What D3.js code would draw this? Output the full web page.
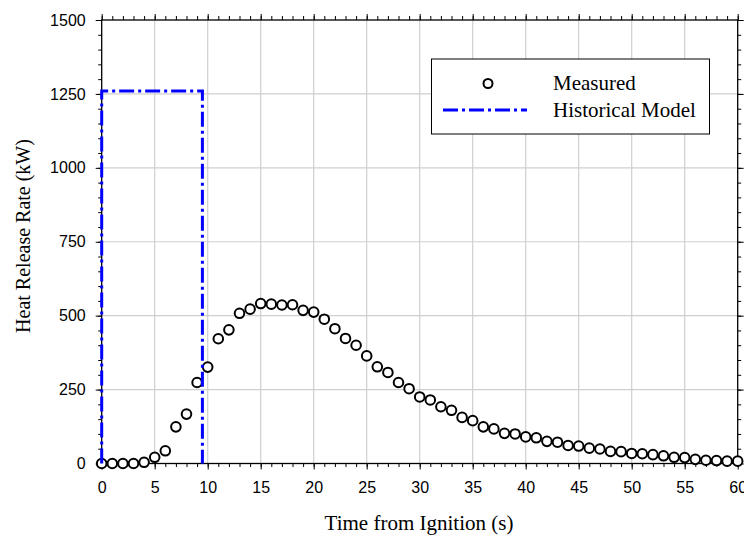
<!DOCTYPE html>
<html>
<head>
<meta charset="utf-8">
<script src="https://cdn.jsdelivr.net/npm/d3@7"></script>
<style>
  html, body { margin: 0; padding: 0; background: #fff; }
  svg { display: block; }
</style>
</head>
<body>
<svg id="chart" width="744" height="535"></svg>
<script>
// ---- data ----
const measuredTime = d3.range(0, 61); // seconds 0..60
const measuredHRR = [
  0, 0, 0, 0, 4, 21, 43, 124, 167, 274,
  326, 422, 452, 508, 522, 541, 539, 536, 537, 518,
  512, 488, 456, 423, 400, 364, 327, 308, 274, 253,
  225, 215, 192, 180, 156, 145, 124, 117, 102, 100,
  90, 87, 75, 72, 61, 59, 52, 49, 41, 40,
  34, 33, 30, 26, 21, 20, 14, 11, 10, 8, 8
];
const modelTime = [0, 0, 9.5, 9.5];
const modelHRR = [0, 1260, 1260, 0];
const xTicks = [0, 5, 10, 15, 20, 25, 30, 35, 40, 45, 50, 55, 60];
const yTicks = [0, 250, 500, 750, 1000, 1250, 1500];
const seriesNames = ["Measured", "Historical Model"];
const xTitle = "Time from Ignition (s)";
const yTitle = "Heat Release Rate (kW)";

// ---- layout ----
const pLeft = 101.7, pRight = 737.7, pTop = 20, pBottom = 463.5;
const svg = d3.select("#chart");
const x = d3.scaleLinear().domain([0, 60]).range([pLeft, pRight]);
const y = d3.scaleLinear().domain([0, 1500]).range([pBottom, pTop]);

const gridColor = "#cfcfcf";
// grid
const grid = svg.append("g");
grid.selectAll("line.vx").data(xTicks.filter(t => t > 0 && t < 60)).join("line")
  .attr("x1", d => x(d)).attr("x2", d => x(d)).attr("y1", pTop).attr("y2", pBottom)
  .attr("stroke", gridColor).attr("stroke-width", 1.2);
grid.selectAll("line.hy").data(yTicks.filter(t => t > 0 && t < 1500)).join("line")
  .attr("x1", pLeft).attr("x2", pRight).attr("y1", d => y(d)).attr("y2", d => y(d))
  .attr("stroke", gridColor).attr("stroke-width", 1.2);

// axes (ticks outward on all four sides)
const xMinor = d3.range(0, 61, 1);
const yMinor = d3.range(0, 1501, 50);
function styleAxis(g) {
  g.select(".domain").remove();
  g.selectAll("line").attr("stroke", "#000").attr("stroke-width", 1);
}
const fontTick = "'Liberation Sans', Arial, sans-serif";
const fontTitle = "'Liberation Serif', 'Times New Roman', serif";

// bottom minor
svg.append("g").attr("transform", `translate(0,${pBottom})`)
  .call(d3.axisBottom(x).tickValues(xMinor).tickSize(3.5).tickFormat(""))
  .call(styleAxis);
// bottom major
svg.append("g").attr("transform", `translate(0,${pBottom})`)
  .call(d3.axisBottom(x).tickValues(xTicks).tickSize(6).tickPadding(12).tickFormat(d3.format("d")))
  .call(styleAxis)
  .call(g => g.selectAll("text").attr("font-family", fontTick).attr("font-size", 16).attr("fill", "#000"));
// top
svg.append("g").attr("transform", `translate(0,${pTop})`)
  .call(d3.axisTop(x).tickValues(xMinor).tickSize(4).tickFormat(""))
  .call(styleAxis);
svg.append("g").attr("transform", `translate(0,${pTop})`)
  .call(d3.axisTop(x).tickValues(xTicks).tickSize(6).tickFormat(""))
  .call(styleAxis);
// left
svg.append("g").attr("transform", `translate(${pLeft},0)`)
  .call(d3.axisLeft(y).tickValues(yMinor).tickSize(3.5).tickFormat(""))
  .call(styleAxis);
svg.append("g").attr("transform", `translate(${pLeft},0)`)
  .call(d3.axisLeft(y).tickValues(yTicks).tickSize(6).tickPadding(10).tickFormat(d3.format("d")))
  .call(styleAxis)
  .call(g => g.selectAll("text").attr("font-family", fontTick).attr("font-size", 16).attr("fill", "#000"));
// right
svg.append("g").attr("transform", `translate(${pRight},0)`)
  .call(d3.axisRight(y).tickValues(yMinor).tickSize(3.5).tickFormat(""))
  .call(styleAxis);
svg.append("g").attr("transform", `translate(${pRight},0)`)
  .call(d3.axisRight(y).tickValues(yTicks).tickSize(6).tickFormat(""))
  .call(styleAxis);

// frame
svg.append("rect").attr("x", pLeft).attr("y", pTop)
  .attr("width", pRight - pLeft).attr("height", pBottom - pTop)
  .attr("fill", "none").attr("stroke", "#000").attr("stroke-width", 1.3);

// legend box (covers grid)
const lg = svg.append("g");
lg.append("rect").attr("x", 431.5).attr("y", 59).attr("width", 278).attr("height", 75)
  .attr("fill", "#fff").attr("stroke", "#000").attr("stroke-width", 1);

// measured points
const pts = measuredTime.map((t, i) => ({ t, v: measuredHRR[i] }));
svg.append("g").selectAll("circle").data(pts).join("circle")
  .attr("cx", d => x(d.t)).attr("cy", d => y(d.v)).attr("r", 4.8)
  .attr("fill", "#fff").attr("stroke", "#000").attr("stroke-width", 2);

// model line
const dash = "15,4,3,4";
const model = modelTime.map((t, i) => ({ t, v: modelHRR[i] }));
svg.append("path").datum(model)
  .attr("d", d3.line().x(d => x(d.t)).y(d => y(d.v)))
  .attr("fill", "none").attr("stroke", "#0000ff").attr("stroke-width", 3)
  .attr("stroke-dasharray", dash);

// legend content
lg.append("circle").attr("cx", 488).attr("cy", 83.5).attr("r", 4.5)
  .attr("fill", "#fff").attr("stroke", "#000").attr("stroke-width", 2);
lg.append("line").attr("x1", 443).attr("x2", 527).attr("y1", 110).attr("y2", 110)
  .attr("stroke", "#0000ff").attr("stroke-width", 3).attr("stroke-dasharray", dash);
lg.selectAll("text").data(seriesNames).join("text")
  .attr("x", 553).attr("y", (d, i) => i === 0 ? 90 : 116.7)
  .attr("font-family", fontTitle).attr("font-size", 21).attr("fill", "#000")
  .text(d => d);

// titles
svg.append("text").attr("x", 419).attr("y", 529.5)
  .attr("text-anchor", "middle").attr("font-family", fontTitle).attr("font-size", 21)
  .attr("fill", "#000").text(xTitle);
svg.append("text").attr("transform", `translate(30,236) rotate(-90)`)
  .attr("text-anchor", "middle").attr("font-family", fontTitle).attr("font-size", 20)
  .attr("fill", "#000").text(yTitle);
</script>
</body>
</html>
